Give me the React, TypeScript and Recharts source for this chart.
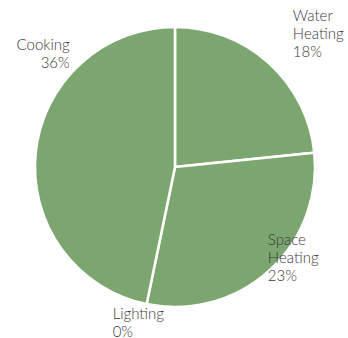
import React from "react";
import { PieChart, Pie, Cell } from "recharts";

const categories = ["Water Heating", "Space Heating", "Lighting", "Cooking"];
const values = [18, 23, 0, 36];

const data = categories.map((name, i) => ({ name, value: values[i] }));

const FILL = "#7ca66f";
const TEXT = "#3a3a3a";

// label placement relative to the point on the outer edge at the slice's mid angle
const LABEL_LAYOUT: Record<string, { dx: number; dy: number; anchor: "start" | "end" }> = {
  "Water Heating": { dx: 24, dy: -42, anchor: "start" },
  "Space Heating": { dx: -1, dy: -26, anchor: "start" },
  Lighting: { dx: -34, dy: 15, anchor: "start" },
  Cooking: { dx: 34, dy: -103, anchor: "end" },
};

const RADIAN = Math.PI / 180;
const LINE_H = 18;

const renderLabel = (props: any) => {
  const { cx, cy, midAngle, outerRadius, name, value } = props;
  const px = cx + outerRadius * Math.cos(-midAngle * RADIAN);
  const py = cy + outerRadius * Math.sin(-midAngle * RADIAN);
  const lay = LABEL_LAYOUT[name] || { dx: 0, dy: 0, anchor: "start" };
  const lines = [...String(name).split(" "), `${value}%`];
  const x = px + lay.dx;
  const y = py + lay.dy;
  return (
    <text
      x={x}
      y={y}
      textAnchor={lay.anchor}
      fill={TEXT}
      fontSize={15}
      fontFamily="Lato, 'Open Sans', sans-serif"
      fontWeight={300}
    >
      {lines.map((l, i) => (
        <tspan key={i} x={x} y={y + i * LINE_H}>
          {l}
        </tspan>
      ))}
    </text>
  );
};

export default function App() {
  return (
    <div style={{ position: "absolute", left: 0, top: 0, width: 348, height: 338, background: "#fff" }}>
      <PieChart width={348} height={338} margin={{ top: 0, right: 0, bottom: 0, left: 0 }}>
        <Pie
          data={data}
          dataKey="value"
          nameKey="name"
          cx={175}
          cy={167}
          outerRadius={140}
          startAngle={90}
          endAngle={-270}
          stroke="#ffffff"
          strokeWidth={2.5}
          label={renderLabel}
          labelLine={false}
          isAnimationActive={false}
        >
          {data.map((d) => (
            <Cell key={d.name} fill={FILL} />
          ))}
        </Pie>
      </PieChart>
    </div>
  );
}
